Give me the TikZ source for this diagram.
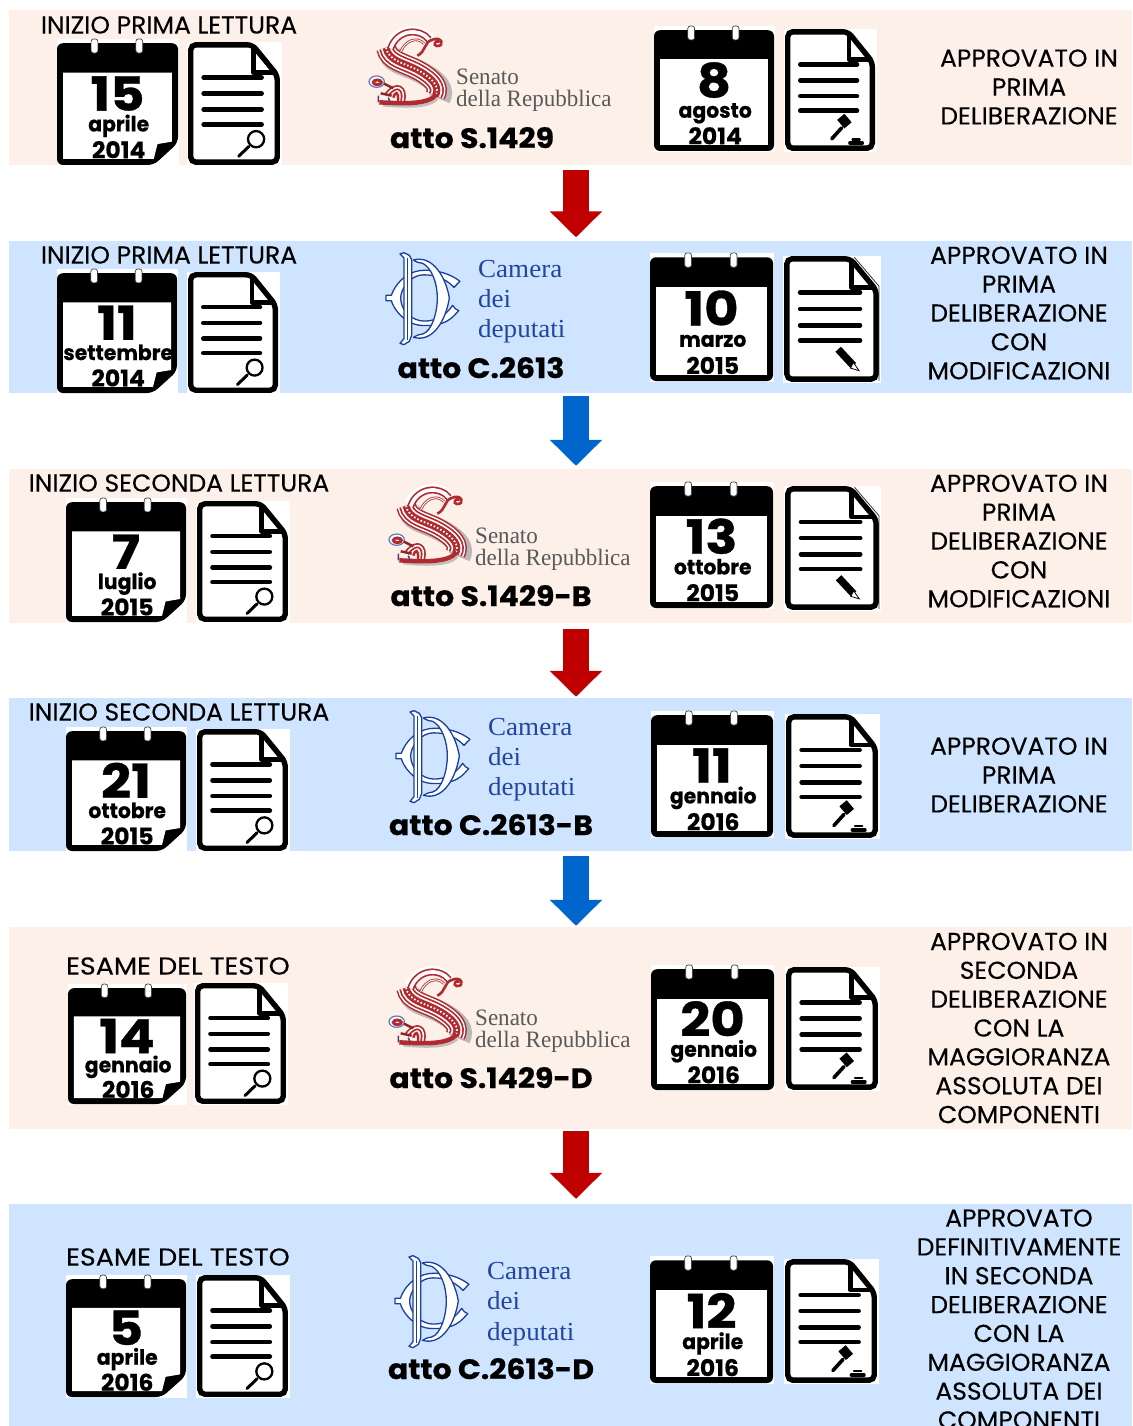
\documentclass[tikz,border=0pt]{standalone}
\usepackage{fontspec}
\usetikzlibrary{arrows.meta}
\newfontfamily\labf[FakeStretch=1.02,FakeBold=0.2]{Poppins}
\newfontfamily\labwide[FakeStretch=1.1,FakeBold=0.2]{Poppins}
\newfontfamily\attof[FakeStretch=1.07,FakeBold=0.7]{Poppins}
\newfontfamily\numf[FakeStretch=1.12,FakeBold=0.7]{Poppins}
\newfontfamily\monf[FakeStretch=0.97,FakeBold=0.5]{Poppins}
\newfontfamily\yearf[FakeStretch=1.02,FakeBold=0.5]{Poppins}
\newfontfamily\serf[FakeStretch=1.04]{Liberation Serif}
\newfontfamily\sernarrow[FakeStretch=0.98]{Liberation Serif}
\definecolor{peach}{HTML}{FDF0E8}
\definecolor{lblue}{HTML}{CFE5FF}
\definecolor{ared}{HTML}{C00000}
\definecolor{ablue}{HTML}{0066CC}
\definecolor{sred}{HTML}{B02A30}
\definecolor{cblue}{HTML}{1A3FA0}
\definecolor{ctext}{HTML}{2145A0}
\tikzset{
  band/.style={rectangle,inner sep=0pt,minimum width=1123pt,draw=none},
  toplabel/.style={font=\labf\fontsize{24.5}{28}\selectfont,inner sep=0pt,text=black},
  widelabel/.style={font=\labwide\fontsize{24.5}{28}\selectfont,inner sep=0pt,text=black},
  sidelabel/.style={font=\labf\fontsize{24.5}{28.85}\selectfont,inner sep=0pt,align=center,text=black},
  atto/.style={font=\attof\bfseries\fontsize{28}{30}\selectfont,inner sep=0pt,anchor=base},
  calnum/.style={font=\numf\bfseries\fontsize{47}{50}\selectfont,inner sep=0pt,anchor=base},
  calmon/.style={font=\monf\bfseries\fontsize{21}{24}\selectfont,inner sep=0pt,anchor=base},
  calyear/.style={font=\yearf\bfseries\fontsize{23}{24}\selectfont,inner sep=0pt,anchor=base},
  blockred/.style={draw=ared,line width=26pt,-{Triangle[length=26pt,width=51pt]}},
  blockblue/.style={draw=ablue,line width=26pt,-{Triangle[length=26pt,width=51pt]}},
  sentxt/.style={font=\sernarrow\fontsize{23.5}{24}\selectfont,text=black!65,inner sep=0pt,anchor=base west},
  camtxt/.style={font=\serf\fontsize{26}{28}\selectfont,text=ctext,inner sep=0pt,anchor=base west},
  monog/.style={draw=cblue,fill=white,line width=1.3pt,line join=round},
}
% name x0 y0 x1 y1 num month year ear(0/1)
\newcommand{\calicon}[9]{%
  \fill[white] (#2,#3-3) rectangle (#4+1,#5+1);
  \begin{scope}[shift={(#2,#3)},xscale={(#4-#2)/100},yscale={(#5-#3)/100}]
    \ifnum#9=1
      \fill[black,rounded corners=6pt] (0,1) -- (100,1) -- (100,82) -- (80,100) -- (0,100) -- cycle;
      \fill[white] (5,25) -- (95,25) -- (95,81) -- (83,83) -- (80,95) -- (5,95) -- cycle;
    \else
      \fill[black,rounded corners=6pt] (0,1) rectangle (100,100);
      \fill[white] (5,25) rectangle (95,95);
    \fi
    \foreach \rx in {31,68}{
      \draw[fill=white,draw=black!75,line width=.7pt,rounded corners=2.5pt] (\rx-2.8,-2.5) rectangle (\rx+2.8,9);
    }
    \node[calnum,yshift=-17pt] (#1n) at (50,42) {#6};
    \node[calmon,yshift=-7pt] (#1m) at (51,67) {#7};
    \node[calyear,yshift=-8pt] (#1y) at (51,88) {#8};
  \end{scope}}
\newcommand{\lensmark}{%
  \draw[black,line width=2.3pt] (74,79) ellipse [x radius=8.8,y radius=6.6];
  \draw[black,line width=3pt,line cap=round] (66,85) -- (55,93);}
\newcommand{\gavelmark}{%
  \draw[black,line width=3.6pt,line cap=round] (63,81) -- (52,90);
  \draw[black,line width=9.5pt] (62,72) -- (70,79);
  \draw[black,line width=3.2pt,line cap=round] (72,93.5) -- (86,93.5);
  \draw[black,line width=2.2pt,line cap=round] (75,90.5) -- (83,90.5);}
\newcommand{\pencilmark}{%
  \draw[black,line width=7.5pt] (57,74) -- (73,87);
  \fill[white,draw=black,line width=.8pt] (73,84.5) -- (79,91) -- (70,89) -- cycle;
  \draw[black!80,line width=.8pt] (74,1) -- (100,24) -- (100,99);}
% name x0 y0 x1 y1 mark
\newcommand{\docicon}[6]{%
  \fill[white] (#2-1,#3) rectangle (#4+2,#5+1);
  \begin{scope}[shift={(#2,#3)},xscale={(#4-#2)/100},yscale={(#5-#3)/100}]
    \draw[black,fill=white,line width=5.4pt,rounded corners=5pt] (3,2.3) -- (70,2.3) -- (97,27) -- (97,97.7) -- (3,97.7) -- cycle;
    \draw[black,line width=4.6pt,line join=round] (71,3) -- (71,25) -- (96,25);
    \draw[black,line width=4.6pt,line cap=round] \foreach \ly in {29,42,55,67}{(17,\ly) -- (80,\ly)};
    #6
  \end{scope}}
\def\sbody{(78,68) .. controls (86,110) and (135,113) .. (178,138) .. controls (222,163) and (240,188) .. (226,212)}
% Senato logo: drawn in zoom units relative to origin
\newcommand{\senlogo}[2]{%
  \begin{scope}[shift={(#1,#2)},scale=0.3333]
    \draw[white,line width=9pt,line cap=round] (90,55) .. controls (120,5) and (190,5) .. (215,48);
    \draw[black!28,line width=22pt] (88,84) .. controls (98,118) and (146,120) .. (190,146) .. controls (236,172) and (252,196) .. (238,222);
    \draw[sred,line width=20pt] \sbody;
    \draw[white,line width=17pt] \sbody;
    \draw[sred,line width=14pt] \sbody;
    \draw[white,line width=10.5pt] \sbody;
    \draw[sred,line width=7pt] \sbody;
    \draw[white,line width=1.8pt,dash pattern=on 1.6pt off 2pt] \sbody;
    % tail
    \draw[black!25,line width=2.5pt] (232,222) .. controls (205,250) and (130,246) .. (70,241);
    \draw[sred,line width=4.5pt] (230,208) .. controls (205,240) and (130,236) .. (58,232);
    % arch
    \draw[sred,line width=7pt] (92,70) .. controls (112,12) and (180,8) .. (207,44);
    \draw[white,line width=3.6pt] (92,70) .. controls (112,12) and (180,8) .. (207,44);
    \draw[sred,line width=2.6pt] (122,80) .. controls (135,48) and (170,32) .. (192,56);
    \draw[white,line width=1pt] (122,80) .. controls (135,48) and (170,32) .. (192,56);
    \draw[sred,line width=2.6pt] (172,92) .. controls (198,80) and (192,52) .. (215,45) .. controls (245,30) and (257,65) .. (230,63) .. controls (218,60) and (225,45) .. (238,50);
    % foot and loop
    \draw[sred,line width=5pt] (80,210) .. controls (112,168) and (138,192) .. (128,228);
    \draw[white,line width=1.5pt] (80,210) .. controls (112,168) and (138,192) .. (128,228);
    \draw[sred,line width=2.4pt] (100,218) .. controls (106,198) and (116,198) .. (114,228);
    \draw[cblue!70!white,fill=white,line width=1.2pt] (50,170) ellipse [x radius=23,y radius=17];
    \draw[sred,line width=3pt] (52,172) ellipse [x radius=12,y radius=7];
    \draw[sred!80!black,line width=2.4pt] (72,176) -- (100,190) (62,205) -- (95,212);
    \draw[cblue!60!sred,line width=1.5pt] (55,212) -- (55,232) (85,218) -- (90,232);
  \end{scope}}
% Camera logo
\newcommand{\camlogo}[2]{%
  \begin{scope}[shift={(#1,#2)},scale=0.3333]
    % C
    \draw[monog] (240,100) .. controls (232,104) and (232,110) .. (222,118) .. controls (195,88) and (150,76) .. (118,82) .. controls (85,90) and (62,125) .. (62,150) .. controls (62,180) and (85,210) .. (120,218) .. controls (155,224) and (195,208) .. (218,172) .. controls (224,180) and (228,186) .. (236,188) .. controls (220,205) and (200,238) .. (120,232) .. controls (70,226) and (40,180) .. (34,158) -- (18,158) -- (18,142) -- (34,142) .. controls (45,110) and (75,75) .. (118,68) .. controls (170,62) and (215,80) .. (240,100) -- cycle;
    % D stem
    \draw[monog] (72,30) -- (60,18) -- (72,14) -- (88,22) -- (95,35) -- (95,262) -- (88,280) -- (72,290) -- (60,286) -- (72,272) -- cycle;
    \draw[cblue,line width=1pt] (83,30) -- (83,275);
    % D bowl
    \draw[monog] (100,36) .. controls (160,20) and (198,90) .. (208,150) .. controls (198,215) and (160,285) .. (100,268) .. controls (112,262) and (118,258) .. (128,258) .. controls (155,250) and (172,195) .. (172,150) .. controls (172,105) and (155,60) .. (128,46) .. controls (118,46) and (110,42) .. (100,36) -- cycle;
  \end{scope}}
\begin{document}
\begin{tikzpicture}[x=1pt,y=-1pt]
\useasboundingbox (0,0) rectangle (1132,1426);
\fill[white] (0,0) rectangle (1132,1426);
\coordinate (ax) at (576,0);
% bands
\node[band,fill=peach,minimum height=155pt] (b1) at (570.5,87.5) {};
\node[band,fill=lblue,minimum height=152pt] (b2) at (570.5,317) {};
\node[band,fill=peach,minimum height=154pt] (b3) at (570.5,546) {};
\node[band,fill=lblue,minimum height=153pt] (b4) at (570.5,774.5) {};
\node[band,fill=peach,minimum height=202pt] (b5) at (570.5,1028) {};
\node[band,fill=lblue,minimum height=222pt] (b6) at (570.5,1315) {};
% arrows
\draw[blockred,shorten <=5pt,shorten >=3.5pt] (ax |- b1.south) -- (ax |- b2.north);
\draw[blockblue,shorten <=3pt,shorten >=3pt] (ax |- b2.south) -- (ax |- b3.north);
\draw[blockred,shorten <=6pt,shorten >=1pt] (ax |- b3.south) -- (ax |- b4.north);
\draw[blockblue,shorten <=5pt,shorten >=1pt] (ax |- b4.south) -- (ax |- b5.north);
\draw[blockred,shorten <=2pt,shorten >=5pt] (ax |- b5.south) -- (ax |- b6.north);
% row 1
\node[toplabel] (l1) at (169,25) {INIZIO PRIMA LETTURA};
\calicon{c1a}{57}{42}{178}{165}{15}{aprile}{2014}{1}
\docicon{d1a}{188}{42}{280}{165}{\lensmark}
\senlogo{360}{25}
\node[sentxt] (s1a) at (456,85) {Senato};
\node[sentxt] (s1b) at (456,107) {della Repubblica};
\node[atto] (a1) at (472,148) {atto S.1429};
\calicon{c1b}{654}{29}{774}{151}{8}{agosto}{2014}{0}
\docicon{d1b}{785}{29}{875}{151}{\gavelmark}
\node[sidelabel] (r1) at (1029,87) {APPROVATO IN\\PRIMA\\DELIBERAZIONE};
% row 2
\node[toplabel] (l2) at (169,255) {INIZIO PRIMA LETTURA};
\calicon{c2a}{57}{272}{177}{393}{11}{settembre}{2014}{1}
\docicon{d2a}{188}{272}{278}{393}{\lensmark}
\camlogo{380}{248}
\node[camtxt] (t2a) at (478,277) {Camera};
\node[camtxt] (t2b) at (478,307) {dei};
\node[camtxt] (t2c) at (478,337) {deputati};
\node[atto] (a2) at (481,378) {atto C.2613};
\calicon{c2b}{650}{256}{773}{381}{10}{marzo}{2015}{0}
\docicon{d2b}{784}{256}{879}{382}{\pencilmark}
\node[sidelabel] (r2) at (1019,313) {APPROVATO IN\\PRIMA\\DELIBERAZIONE\\CON\\MODIFICAZIONI};
% row 3
\node[toplabel] (l3) at (179,483) {INIZIO SECONDA LETTURA};
\calicon{c3a}{66}{501}{186}{622}{7}{luglio}{2015}{1}
\docicon{d3a}{197}{501}{288}{622}{\lensmark}
\senlogo{380}{483}
\node[sentxt] (s3a) at (475,543) {Senato};
\node[sentxt] (s3b) at (475,565) {della Repubblica};
\node[atto] (a3) at (491,606) {atto S.1429-B};
\calicon{c3b}{650}{485}{773}{608}{13}{ottobre}{2015}{0}
\docicon{d3b}{785}{486}{879}{610}{\pencilmark}
\node[sidelabel] (r3) at (1019,541) {APPROVATO IN\\PRIMA\\DELIBERAZIONE\\CON\\MODIFICAZIONI};
% row 4
\node[toplabel] (l4) at (179,712) {INIZIO SECONDA LETTURA};
\calicon{c4a}{66}{730}{186}{851}{21}{ottobre}{2015}{1}
\docicon{d4a}{197}{729}{288}{851}{\lensmark}
\camlogo{390}{706}
\node[camtxt] (t4a) at (488,735) {Camera};
\node[camtxt] (t4b) at (488,765) {dei};
\node[camtxt] (t4c) at (488,795) {deputati};
\node[atto] (a4) at (491,835) {atto C.2613-B};
\calicon{c4b}{651}{714}{773}{837}{11}{gennaio}{2016}{0}
\docicon{d4b}{786}{714}{878}{838}{\gavelmark}
\node[sidelabel] (r4) at (1019,775) {APPROVATO IN\\PRIMA\\DELIBERAZIONE};
% row 5
\node[widelabel] (l5) at (178,966) {ESAME DEL TESTO};
\calicon{c5a}{68}{987}{186}{1104}{14}{gennaio}{2016}{1}
\docicon{d5a}{195}{983}{286}{1104}{\lensmark}
\senlogo{380}{965}
\node[sentxt] (s5a) at (475,1025) {Senato};
\node[sentxt] (s5b) at (475,1047) {della Repubblica};
\node[atto] (a5) at (491,1088) {atto S.1429-D};
\calicon{c5b}{651}{968}{774}{1090}{20}{gennaio}{2016}{0}
\docicon{d5b}{786}{967}{878}{1090}{\gavelmark}
\node[sidelabel] (r5) at (1019,1028) {APPROVATO IN\\SECONDA\\DELIBERAZIONE\\CON LA\\MAGGIORANZA\\ASSOLUTA DEI\\COMPONENTI};
% row 6
\node[widelabel] (l6) at (178,1257) {ESAME DEL TESTO};
\calicon{c6a}{66}{1278}{186}{1397}{5}{aprile}{2016}{1}
\docicon{d6a}{197}{1275}{288}{1397}{\lensmark}
\camlogo{389}{1251}
\node[camtxt] (t6a) at (487,1279) {Camera};
\node[camtxt] (t6b) at (487,1309) {dei};
\node[camtxt] (t6c) at (487,1340) {deputati};
\node[atto] (a6) at (491,1379) {atto C.2613-D};
\calicon{c6b}{650}{1259}{773}{1383}{12}{aprile}{2016}{0}
\docicon{d6b}{785}{1259}{877}{1383}{\gavelmark}
\node[sidelabel] (r6) at (1019,1319) {APPROVATO\\DEFINITIVAMENTE\\IN SECONDA\\DELIBERAZIONE\\CON LA\\MAGGIORANZA\\ASSOLUTA DEI\\COMPONENTI};
\end{tikzpicture}
\end{document}
